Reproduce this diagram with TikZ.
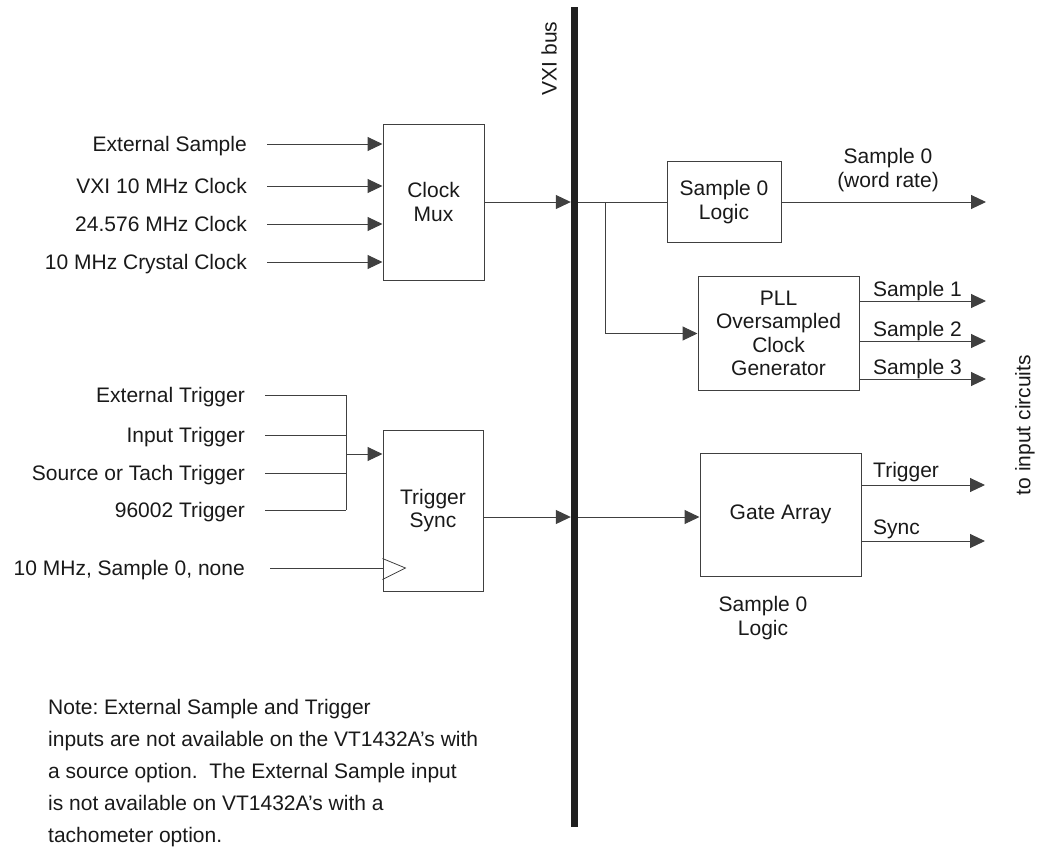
\documentclass[tikz,border=0pt]{standalone}
\usepackage{fontspec}
\setmainfont{Liberation Sans}
\usetikzlibrary{arrows.meta,calc}
\frenchspacing
\begin{document}
\begin{tikzpicture}[x=1pt,y=-1pt,
  every node/.style={font=\fontsize{21}{23.5}\selectfont, text=black!90},
  boxnode/.style={draw=black!75, line width=1pt, rectangle, align=center, inner sep=0pt},
  lbl/.style={inner sep=0pt, text height=15pt, text depth=0pt},
  conn/.style={draw=black!75, line width=1pt},
  arr/.style={conn, -{Triangle[length=15pt,width=14pt]}},
]
\useasboundingbox (0,0) rectangle (1046,860);

% bus
\node[fill=black!88, inner sep=0pt, minimum width=7pt, minimum height=820pt] (bus) at (574.5,417) {};
\node[rotate=90, inner sep=0pt] (buslbl) at (549,58.5) {VXI bus};

% boxes
\node[boxnode, minimum width=101pt, minimum height=156pt] (mux) at (433.5,202) {Clock\\Mux};
\node[boxnode, minimum width=114pt, minimum height=81pt] (s0l) at (724,202) {Sample 0\\Logic};
\node[boxnode, minimum width=161pt, minimum height=114pt] (pll) at (778.5,333.5) {PLL\\Oversampled\\Clock\\Generator};
\node[boxnode, minimum width=100pt, minimum height=161pt] (tsync) at (433,510.5) {Trigger\\Sync};
\node[boxnode, minimum width=161pt, minimum height=123pt] (gate) at (780.5,514.5) {Gate Array};

% clock inputs
\node[lbl, anchor=east] (es) at (247,144) {External Sample};
\node[lbl, anchor=east] (vxi) at (247,186) {VXI 10 MHz Clock};
\node[lbl, anchor=east] (c24) at (247,224) {24.576 MHz Clock};
\node[lbl, anchor=east] (c10) at (247,262) {10 MHz Crystal Clock};
\foreach \n in {es,vxi,c24,c10}
  \draw[arr] ([xshift=20pt]\n.east) -- (\n.east -| mux.west);

% mux to bus
\draw[arr] (mux.east) -- (mux.east -| bus.west);
\draw[conn] (mux.east -| bus.east) -- (s0l.west);
\coordinate (brk) at (605,202);
\draw[arr] (brk) |- (pll.west);

% outputs
\coordinate (o0) at (986,202);
\draw[arr] (s0l.east) -- (o0);
\node[align=center, inner sep=0pt] (o0lbl) at (888,170) {Sample 0\\(word rate)};
\coordinate (o1) at (986,301);
\coordinate (o2) at (986,341);
\coordinate (o3) at (986,379);
\draw[arr] (o1 -| pll.east) -- (o1);
\draw[arr] (o2 -| pll.east) -- (o2);
\draw[arr] (o3 -| pll.east) -- (o3);
\node[anchor=base west, inner sep=0pt] (s1) at (873,296.5) {Sample 1};
\node[anchor=base west, inner sep=0pt] (s2) at (873,336.5) {Sample 2};
\node[anchor=base west, inner sep=0pt] (s3) at (873,374.5) {Sample 3};

% trigger inputs
\node[lbl, anchor=east] (et) at (245,395) {External Trigger};
\node[lbl, anchor=east] (it) at (245,435) {Input Trigger};
\node[lbl, anchor=east] (st) at (245,473) {Source or Tach Trigger};
\node[lbl, anchor=east] (nt) at (245,510) {96002 Trigger};
\coordinate (tj) at (346,454);
\foreach \n in {et,it,st,nt}
  \draw[conn] ([xshift=20pt]\n.east) -- (\n.east -| tj);
\draw[conn] (et.east -| tj) -- (nt.east -| tj);
\draw[arr] (tj) -- (tj -| tsync.west);

% clock input of trigger sync
\node[lbl, anchor=east] (clk) at (245,568) {10 MHz, Sample 0, none};
\draw[conn] ([xshift=25pt]clk.east) -- (clk.east -| tsync.west);
\draw[conn, line width=0.8pt] ($(clk.east -| tsync.west)+(0,-9.5)$) -- ($(clk.east -| tsync.west)+(23,0)$) -- ($(clk.east -| tsync.west)+(0,11.5)$);

% trigger sync to bus to gate array
\coordinate (gy) at (0,517);
\draw[arr] (tsync.east |- gy) -- (bus.west |- gy);
\draw[arr] (bus.east |- gy) -- (gate.west |- gy);

% gate array outputs
\coordinate (gt) at (985,485);
\coordinate (gs) at (985,541);
\draw[arr] (gt -| gate.east) -- (gt);
\draw[arr] (gs -| gate.east) -- (gs);
\node[anchor=base west, inner sep=0pt] (trl) at (873,477) {Trigger};
\node[anchor=base west, inner sep=0pt] (syl) at (873,534) {Sync};
\node[align=center, inner sep=0pt] (s0l2) at (763,618) {Sample 0\\Logic};

% side label
\node[rotate=90, inner sep=0pt] (tic) at (1025,425) {to input circuits};

% note
\node[anchor=north west, align=left, inner sep=0pt, font=\fontsize{21}{32}\selectfont] (note) at (48,699.5)
 {Note: External Sample and Trigger\\
  inputs are not available on the VT1432A’s with\\
  a source option.\ \ The External Sample input\\
  is not available on VT1432A’s with a\\
  tachometer option.};
\end{tikzpicture}
\end{document}
